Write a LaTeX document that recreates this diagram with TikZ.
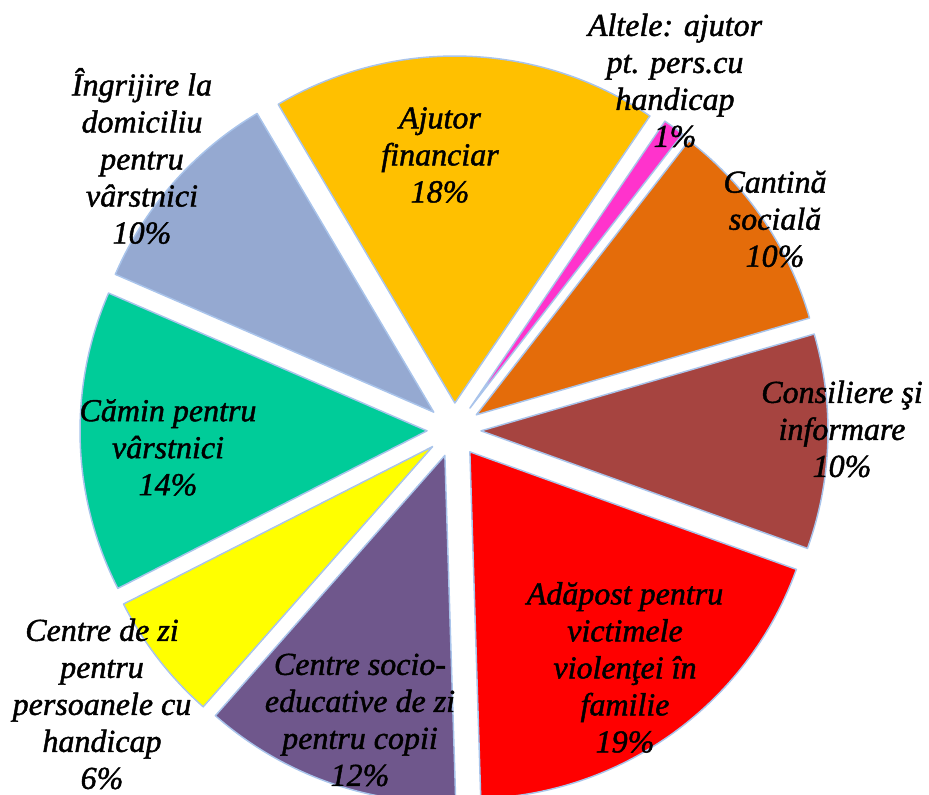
\documentclass[tikz,border=0pt]{standalone}
\usepackage{fontspec}
\setmainfont{Liberation Serif}
\newfontfamily\chartfont[FakeBold=1.4]{Liberation Serif}
\usetikzlibrary{calc}
\definecolor{rim}{HTML}{A9C4EB}
\definecolor{gold}{HTML}{FFC000}
\definecolor{pinkish}{HTML}{FF33CC}
\definecolor{orng}{HTML}{E46C0A}
\definecolor{brwn}{HTML}{A64440}
\definecolor{purp}{HTML}{6F578C}
\definecolor{yell}{HTML}{FFFF00}
\definecolor{rd}{HTML}{FF0000}
\definecolor{teal}{HTML}{00CC99}
\definecolor{greyblue}{HTML}{95A9D1}

\begin{document}
\begin{tikzpicture}[x=0.75pt,y=0.75pt,
   wedge/.style={draw=rim,line width=1.1pt,line join=round},
   lbl/.style={align=center,inner sep=0pt,font=\chartfont\itshape\fontsize{24}{27.75}\selectfont}]
\useasboundingbox (0,0) rectangle (929,794);
\clip (0,0) rectangle (929,794);
\coordinate (C) at (454,364);
\foreach \a/\b/\col in {55.8/120.6/gold, 52.2/55.8/pinkish, 16.2/52.2/orng, -19.8/16.2/brwn,
  -88.2/-19.8/rd, -131.4/-88.2/purp, -153/-131.4/yell, -203.4/-153/teal, -239.4/-203.4/greyblue}{
  \pgfmathsetmacro\m{(\a+\b)/2}
  \filldraw[wedge,fill=\col] ($(C)+(\m:27)$) -- ++(\a:347) arc[start angle=\a,end angle=\b,radius=347] -- cycle;
}
\node[lbl] (ajutor) at (440,639) {Ajutor\\financiar\\18\%};
\node[lbl] (altele) at (675,713.5) {Altele: ajutor\\pt. pers.cu\\handicap\\1\%};
\node[lbl] (cantina) at (775,575) {Cantină\\socială\\10\%};
\node[lbl] (consiliere) at (842,365) {Consiliere şi\\informare\\10\%};
\node[lbl] (adapost) at (625,126.5) {Adăpost pentru\\victimele\\violenţei în\\familie\\19\%};
\node[lbl] (socio) at (360,74) {Centre socio-\\educative de zi\\pentru copii\\12\%};
\node[lbl] (dezi) at (102,90) {Centre de zi\\pentru\\persoanele cu\\handicap\\6\%};
\node[lbl] (camin) at (168,346.5) {Cămin pentru\\vârstnici\\14\%};
\node[lbl] (ingrijire) at (142,638) {Îngrijire la\\domiciliu\\pentru\\vârstnici\\10\%};
\end{tikzpicture}
\end{document}
